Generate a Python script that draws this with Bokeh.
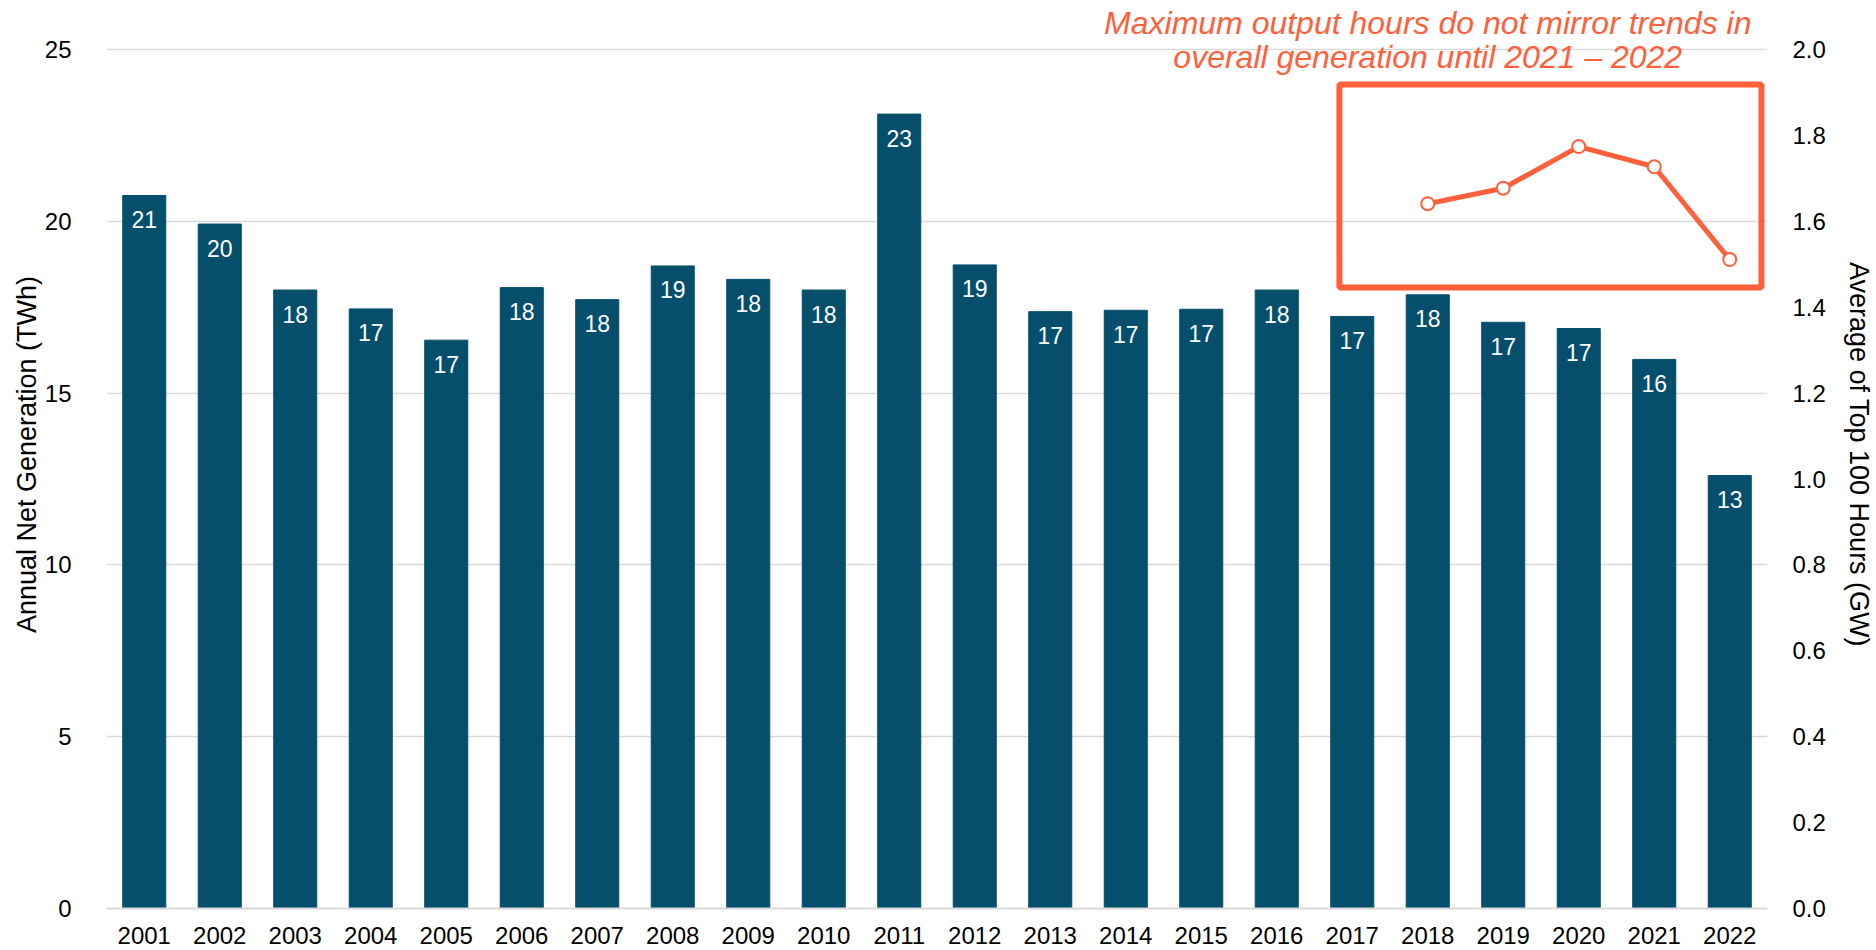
from bokeh.plotting import figure
from bokeh.models import (FactorRange, Range1d, LinearAxis, BoxAnnotation, Label,
                          ColumnDataSource, FixedTicker, NumeralTickFormatter)
from bokeh.core.properties import value
from bokeh.embed import file_html
from bokeh.resources import INLINE

years = [str(y) for y in range(2001, 2023)]
generation_twh = [20.75, 19.92, 18.00, 17.45, 16.54, 18.07, 17.72, 18.70, 18.31, 18.00,
                  23.12, 18.73, 17.37, 17.41, 17.44, 18.00, 17.23, 17.86, 17.06, 16.88,
                  15.98, 12.60]
line_years = ["2018", "2019", "2020", "2021", "2022"]
top100_gw = [1.641, 1.677, 1.774, 1.727, 1.511]
left_ticks = [0, 5, 10, 15, 20, 25]
right_ticks = [0.0, 0.2, 0.4, 0.6, 0.8, 1.0, 1.2, 1.4, 1.6, 1.8, 2.0]
note_lines = ["Maximum output hours do not mirror trends in",
              "overall generation until 2021 \u2013 2022"]

BAR = "#054F6D"
ORANGE = "#FF5F3A"
GRID = "#D9D9D9"
FONT = "Liberation Sans"

Y_TOP = 25 * 908 / 859          # leaves headroom above the 25 gridline for the note
GW_PER_TWH = 2.0 / 25

p = figure(width=1876, height=950, x_range=FactorRange(*years), y_range=Range1d(0, Y_TOP),
           output_backend="svg", toolbar_location=None,
           min_border_left=106, min_border_right=108, min_border_top=0, min_border_bottom=42)
p.outline_line_color = None
p.extra_y_ranges = {"gw": Range1d(0, Y_TOP * GW_PER_TWH)}

src = ColumnDataSource(dict(x=years, top=generation_twh,
                            lab=[f"{v:.0f}" for v in generation_twh]))
p.vbar(x="x", top="top", width=0.57, source=src, fill_color=BAR, line_color=BAR)
p.text(x="x", y="top", text="lab", source=src, y_offset=24, text_align="center",
       text_baseline="middle", text_color="white", text_font=value(FONT),
       text_font_size="23px")

lsrc = ColumnDataSource(dict(x=line_years, y=top100_gw))
p.line(x="x", y="y", source=lsrc, y_range_name="gw", line_color=ORANGE, line_width=5)
p.scatter(x="x", y="y", source=lsrc, y_range_name="gw", size=13, fill_color="white",
          line_color=ORANGE, line_width=2)

p.add_layout(BoxAnnotation(left=16.33, right=21.92, bottom=18.07, top=23.98,
                           fill_alpha=0, line_color=ORANGE, line_alpha=1, line_width=6))
for txt, yy in zip(note_lines, [25.78, 24.77]):
    p.add_layout(Label(x=17.5, y=yy, text=txt, text_align="center",
                       text_baseline="alphabetic", text_color=ORANGE,
                       text_font=FONT, text_font_style="italic", text_font_size="32px"))

p.xgrid.grid_line_color = None
p.ygrid.grid_line_color = GRID
p.ygrid.grid_line_width = 1.5
p.yaxis.ticker = FixedTicker(ticks=left_ticks)

right = LinearAxis(y_range_name="gw", ticker=FixedTicker(ticks=right_ticks),
                   formatter=NumeralTickFormatter(format="0.0"))
p.add_layout(right, "right")

for ax in [p.xaxis[0], p.yaxis[0], right]:
    ax.major_tick_line_color = None
    ax.minor_tick_line_color = None
    ax.major_label_text_font = FONT
    ax.major_label_text_font_size = "24px"
    ax.major_label_text_color = "black"
    ax.axis_label_text_font = FONT
    ax.axis_label_text_font_size = "27px"
    ax.axis_label_text_font_style = "normal"
    ax.axis_label_text_color = "black"

p.xaxis.axis_line_color = GRID
p.xaxis.axis_line_width = 2
p.xaxis.major_label_standoff = 12
p.yaxis[0].axis_line_color = None
p.yaxis[0].major_label_standoff = 29
p.yaxis[0].axis_label = "Annual Net Generation (TWh)"
p.yaxis[0].axis_label_standoff = 0
right.axis_line_color = None
right.major_label_standoff = 19
right.axis_label = "Average of Top 100 Hours (GW)"
right.axis_label_standoff = 15

open("out.html", "w").write(file_html(p, INLINE))
